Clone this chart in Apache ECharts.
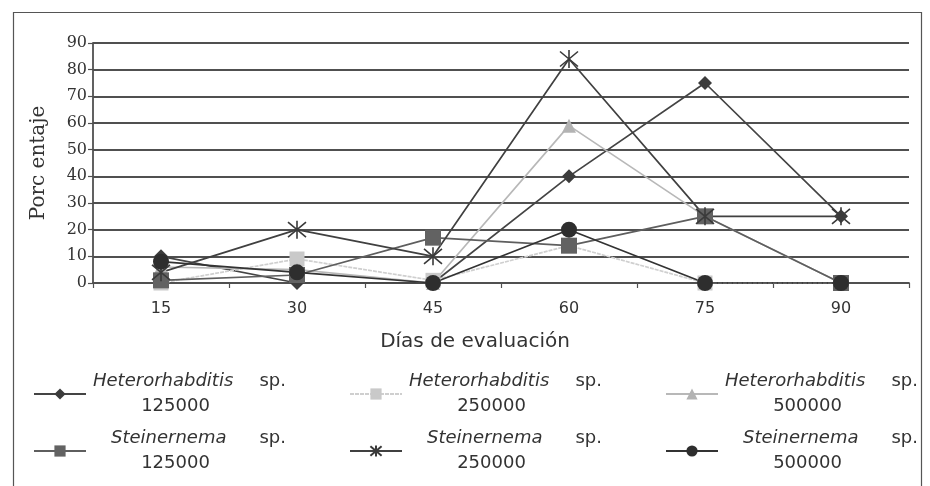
<!DOCTYPE html>
<html>
<head>
<meta charset="utf-8">
<script src="https://cdn.jsdelivr.net/npm/echarts@6/dist/echarts.min.js"></script>
<style>html,body{margin:0;padding:0;background:#fff}#c{width:930px;height:486px}</style>
</head>
<body>
<div id="c"></div>
<script>
var categories = ['15', '30', '45', '60', '75', '90'];
var hetero125 = [10, 0, 0, 40, 75, 25];
var hetero250 = [0, 9, 1, 14, 0, 0];
var hetero500 = [6, 5, 0, 59, 25, 0];
var stein125 = [1, 3, 17, 14, 25, 0];
var stein250 = [4, 20, 10, 84, 25, 25];
var stein500 = [8, 4, 0, 20, 0, 0];
var seriesNames = ['H125', 'H250', 'H500', 'S125', 'S250', 'S500'];
var genusNames = ['Heterorhabditis', 'Heterorhabditis', 'Heterorhabditis', 'Steinernema', 'Steinernema', 'Steinernema'];
var doseLabels = ['125000', '250000', '500000', '125000', '250000', '500000'];

var asterisk = 'path://M0,0 L10,10 M10,0 L0,10 M5,-1 L5,11';

function mk(name, data, color, lineColor, symbol, size, extra) {
  var s = {
    name: name, type: 'line', data: data,
    symbol: symbol, symbolSize: size,
    lineStyle: { color: lineColor, width: 1.7 },
    itemStyle: { color: color },
    emphasis: { disabled: true },
    animation: false
  };
  if (extra) { for (var k in extra) s[k] = extra[k]; }
  return s;
}

var FS = 18;
var legendText = {
  fontFamily: 'DejaVu Sans', fontSize: FS, color: '#333',
  width: 195, lineHeight: 25,
  rich: {
    h: { fontStyle: 'italic', fontFamily: 'DejaVu Sans', fontSize: FS, color: '#333', align: 'left', lineHeight: 25, padding: [0, 0, 0, 2] },
    t: { fontStyle: 'italic', fontFamily: 'DejaVu Sans', fontSize: FS, color: '#333', align: 'left', lineHeight: 25, padding: [0, 0, 0, 20] },
    s: { fontFamily: 'DejaVu Sans', fontSize: FS, color: '#333', align: 'right', lineHeight: 25 },
    n: { fontFamily: 'DejaVu Sans', fontSize: FS, color: '#333', align: 'center', lineHeight: 25, padding: [0, 26, 0, 0] }
  }
};
function fmt(name) {
  var i = seriesNames.indexOf(name);
  var tag = i < 3 ? 'h' : 't';
  return '{' + tag + '|' + genusNames[i] + '}{s|sp.}\n{n|' + doseLabels[i] + '}';
}

var chart = echarts.init(document.getElementById('c'), null, { renderer: 'canvas' });
chart.setOption({
  animation: false,
  backgroundColor: '#fff',
  graphic: [{
    type: 'rect', left: 11, top: 10,
    shape: { x: 0, y: 0, width: 908, height: 490 },
    style: { fill: 'none', stroke: '#555', lineWidth: 1.2 },
    silent: true
  }],
  grid: { left: 93, right: 21, top: 43, bottom: 203 },
  xAxis: {
    type: 'category', data: categories,
    name: 'Días de evaluación', nameLocation: 'middle', nameGap: 49,
    nameTextStyle: { fontFamily: 'DejaVu Sans', fontSize: 20, color: '#333', padding: [0, 52, 0, 0] },
    axisLine: { lineStyle: { color: '#505050', width: 1.8 } },
    axisTick: { show: true, length: 5, lineStyle: { color: '#505050', width: 1.2 } },
    axisLabel: { margin: 18, fontFamily: 'DejaVu Sans', fontSize: 16, color: '#333' }
  },
  yAxis: {
    type: 'value', min: 0, max: 90, interval: 10,
    name: 'Porc entaje', nameLocation: 'middle', nameGap: 44,
    nameTextStyle: { fontFamily: 'DejaVu Serif', fontSize: 20, color: '#333' },
    axisLine: { show: true, lineStyle: { color: '#505050', width: 1.8 } },
    axisTick: { show: true, length: 5, lineStyle: { color: '#505050', width: 1.2 } },
    axisLabel: { margin: 6, fontFamily: 'DejaVu Serif', fontSize: 16, color: '#333' },
    splitLine: { lineStyle: { color: '#505050', width: 1.8 } }
  },
  legend: [{
    data: seriesNames.slice(0, 3), left: 33, top: 369, width: 895, padding: 0, orient: 'horizontal',
    itemWidth: 52, itemHeight: 14, itemGap: 63,
    formatter: fmt, textStyle: legendText, selectedMode: false
  }, {
    data: seriesNames.slice(3, 6), left: 33, top: 426, width: 895, padding: 0, orient: 'horizontal',
    itemWidth: 52, itemHeight: 14, itemGap: 63,
    formatter: fmt, textStyle: legendText, selectedMode: false
  }],
  series: [
    mk('H125', hetero125, '#3c3c3c', '#444444', 'diamond', 14),
    mk('H250', hetero250, '#c9c9c9', '#cfcfcf', 'rect', 15, { lineStyle: { color: '#cfcfcf', width: 1.7, type: [4, 1] } }),
    mk('H500', hetero500, '#b3b3b3', '#b8b8b8', 'triangle', 14),
    mk('S125', stein125, '#626262', '#5e5e5e', 'rect', 16),
    mk('S250', stein250, '#3a3a3a', '#404040', asterisk, 18, { itemStyle: { color: 'none', borderColor: '#3a3a3a', borderWidth: 1.6 } }),
    mk('S500', stein500, '#2e2e2e', '#333333', 'circle', 16)
  ]
});
</script>
</body>
</html>
